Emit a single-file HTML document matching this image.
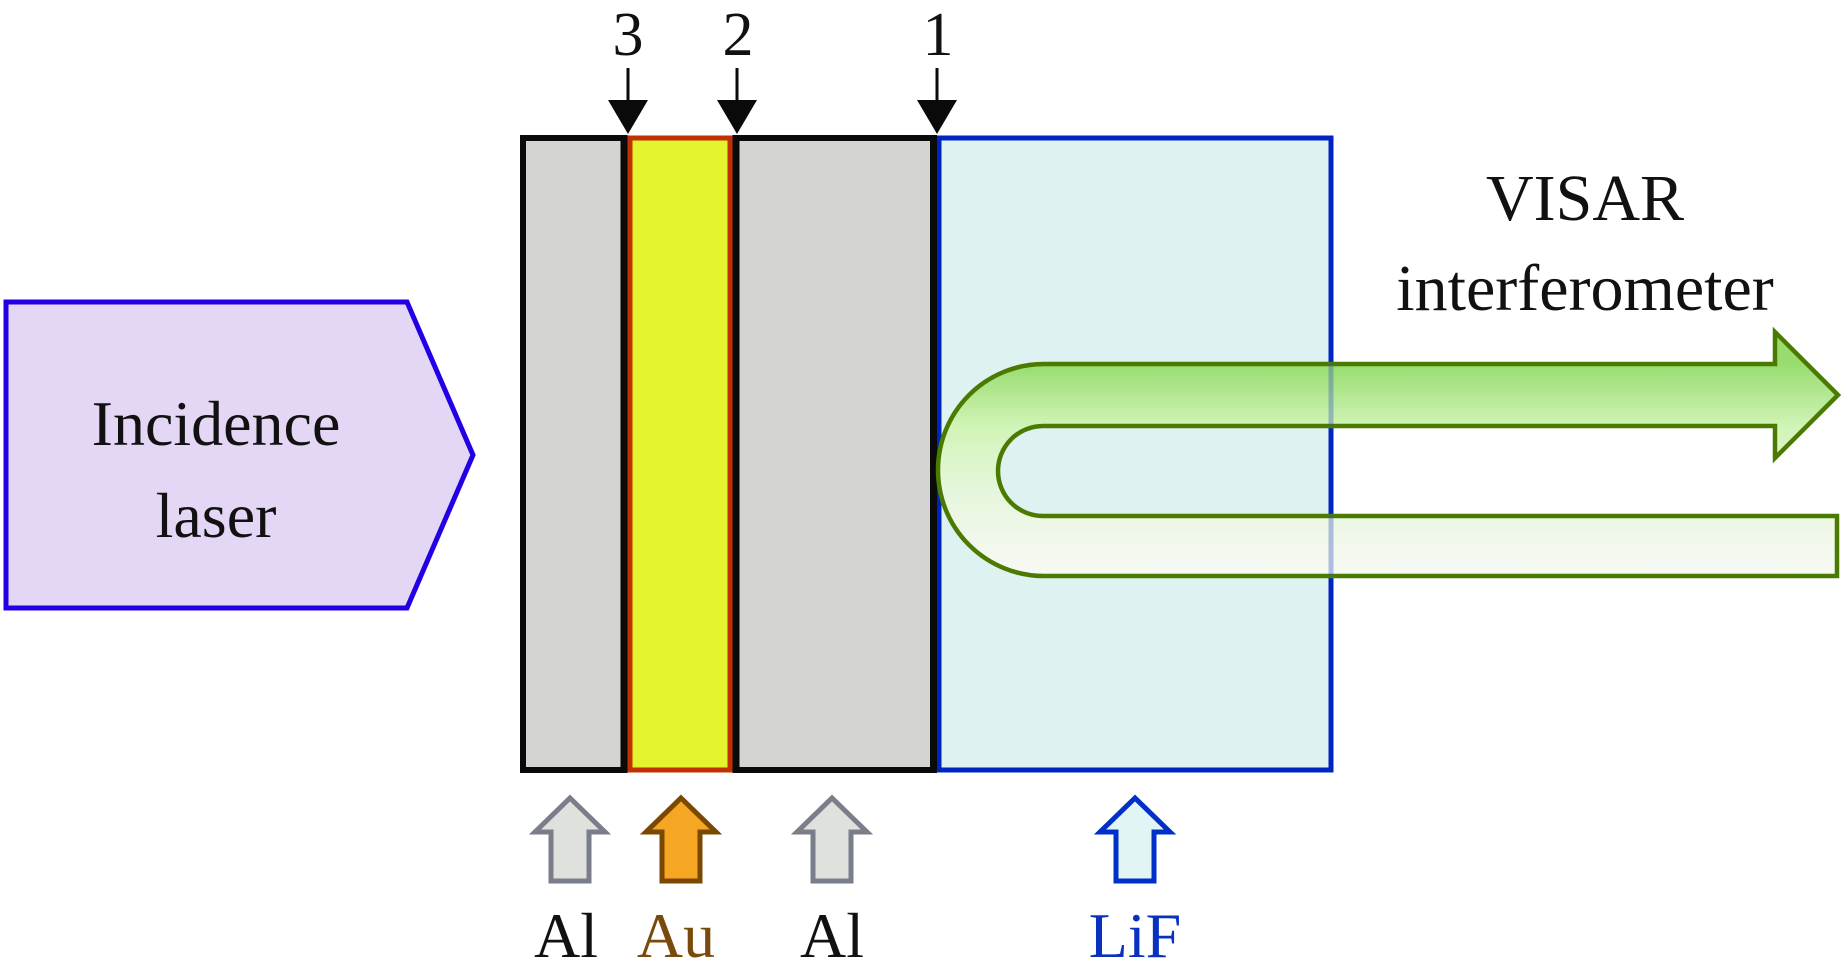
<!DOCTYPE html>
<html><head><meta charset="utf-8"><style>html,body{margin:0;padding:0;background:#fff}svg{display:block;font-family:"Liberation Serif","Times New Roman",serif}svg text{font-family:"Liberation Serif","Times New Roman",serif}</style></head>
<body>
<svg width="1843" height="978" viewBox="0 0 1843 978" xmlns="http://www.w3.org/2000/svg">
<defs>
<linearGradient id="g" x1="0" y1="364" x2="0" y2="576" gradientUnits="userSpaceOnUse">
<stop offset="0" stop-color="#98dc70"/>
<stop offset="0.3" stop-color="#d2f4b8"/>
<stop offset="0.6" stop-color="#e6f6dc"/>
<stop offset="1" stop-color="#f8f9f5"/>
</linearGradient>
</defs>
<polygon points="6,302 407,302 473,455 407,608 6,608" fill="#e4d7f6" stroke="#2200e6" stroke-width="5"/>
<text x="216" y="445" font-size="64" text-anchor="middle" fill="#111">Incidence</text>
<text x="216" y="537" font-size="64" text-anchor="middle" fill="#111">laser</text>
<rect x="523" y="138" width="101" height="632" fill="#d4d5d3" stroke="#0a0a0a" stroke-width="6"/>
<rect x="736" y="138" width="197" height="632" fill="#d4d5d3" stroke="#0a0a0a" stroke-width="6"/>
<rect x="630" y="138" width="100" height="632" fill="#e4f52e" stroke="#c03000" stroke-width="5"/>
<line x1="624" y1="135" x2="624" y2="773" stroke="#0a0a0a" stroke-width="7"/>
<line x1="736" y1="135" x2="736" y2="773" stroke="#0a0a0a" stroke-width="7"/>
<rect x="939" y="138" width="392" height="632" fill="#dff2f2" stroke="#0024c0" stroke-width="5"/>
<line x1="934" y1="135" x2="934" y2="773" stroke="#0a0a0a" stroke-width="6"/>
<path d="M1044,364 L1775,364 L1775,332 L1838,395 L1775,458 L1775,426 L1043,426 A45,45 0 0 0 1043,516 L1837,516 L1837,576 L1044,576 A106,106 0 0 1 1044,364 Z" fill="url(#g)" stroke="#4a7a00" stroke-width="4.5" stroke-linejoin="miter"/>
<line x1="1331" y1="364" x2="1331" y2="426" stroke="#3050c0" stroke-width="5" opacity="0.35"/>
<line x1="1331" y1="516" x2="1331" y2="576" stroke="#3050c0" stroke-width="5" opacity="0.35"/>
<g fill="#0a0a0a" stroke="#0a0a0a" stroke-width="3">
<line x1="628" y1="68" x2="628" y2="110"/><polygon points="608,100 648,100 628,134" stroke="none"/>
<line x1="737" y1="68" x2="737" y2="110"/><polygon points="717,100 757,100 737,134" stroke="none"/>
<line x1="937" y1="68" x2="937" y2="110"/><polygon points="917,100 957,100 937,134" stroke="none"/>
</g>
<text x="628" y="55" font-size="62" text-anchor="middle" fill="#111">3</text>
<text x="738" y="55" font-size="62" text-anchor="middle" fill="#111">2</text>
<text x="938" y="55" font-size="62" text-anchor="middle" fill="#111">1</text>
<text x="1585" y="220" font-size="66" text-anchor="middle" fill="#111">VISAR</text>
<text x="1585" y="310" font-size="66" text-anchor="middle" fill="#111">interferometer</text>
<g stroke-width="5" stroke-linejoin="miter">
<polygon points="570,798 605,832 589,832 589,881 551,881 551,832 535,832" fill="#dfe1dd" stroke="#7a7e8a"/>
<polygon points="681,798 716,832 700,832 700,881 662,881 662,832 646,832" fill="#f5a623" stroke="#7a4800"/>
<polygon points="832,798 867,832 851,832 851,881 813,881 813,832 797,832" fill="#dfe1dd" stroke="#7a7e8a"/>
<polygon points="1135,798 1170,832 1154,832 1154,881 1116,881 1116,832 1100,832" fill="#e2f5f5" stroke="#0030c8"/>
</g>
<text x="566" y="957" font-size="64" text-anchor="middle" fill="#111">Al</text>
<text x="676" y="957" font-size="64" text-anchor="middle" fill="#7a4a0c">Au</text>
<text x="832" y="957" font-size="64" text-anchor="middle" fill="#111">Al</text>
<text x="1135" y="957" font-size="64" text-anchor="middle" fill="#0a30c0">LiF</text>
</svg>
</body></html>
